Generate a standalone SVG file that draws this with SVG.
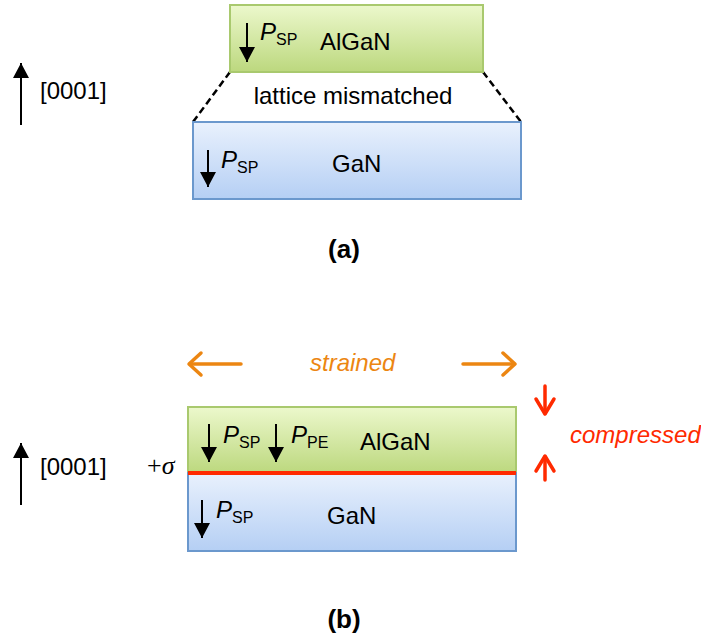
<svg xmlns="http://www.w3.org/2000/svg" width="701" height="637" viewBox="0 0 701 637">
<style>
text{font-family:"Liberation Sans",Arial,sans-serif;fill:#000}
.lbl{font-size:24px}
.sub{font-size:16px}
.it{font-style:italic}
.cap{font-size:26px;font-weight:bold;text-anchor:middle}
.blk{stroke:#000;stroke-width:2;fill:none}
.org{stroke:#ec8612;stroke-width:3.5;fill:none;stroke-linecap:round;stroke-linejoin:round}
.red{stroke:#ff2a00;stroke-width:3.5;fill:none;stroke-linecap:round;stroke-linejoin:round}
.algan{fill:url(#gG);stroke:#a9c96e;stroke-width:2}
.gan{fill:url(#gB);stroke:#6b98cd;stroke-width:2}
.dash{stroke:#000;stroke-width:2.5;stroke-dasharray:7,4;fill:none}
</style>
<defs>
<linearGradient id="gG" x1="0" y1="0" x2="0" y2="1">
<stop offset="0" stop-color="#ecf8cc"/>
<stop offset="1" stop-color="#bcd87e"/>
</linearGradient>
<linearGradient id="gB" x1="0" y1="0" x2="0" y2="1">
<stop offset="0" stop-color="#e9f1fd"/>
<stop offset="1" stop-color="#b5cff4"/>
</linearGradient>
<marker id="ah" markerUnits="userSpaceOnUse" markerWidth="16" markerHeight="16" refX="15" refY="8" orient="auto" viewBox="0 0 16 16">
<path d="M0,0 L15,8 L0,16 z" fill="#000"/>
</marker>
</defs>

<!-- (a) -->
<g id="axis-a">
<line class="blk" x1="21" y1="125" x2="21" y2="63" marker-end="url(#ah)"/>
<text class="lbl" x="40" y="99">[0001]</text>
</g>
<g id="connectors-a">
<line class="dash" x1="230" y1="72" x2="193" y2="122"/>
<line class="dash" x1="483" y1="72" x2="521" y2="122"/>
</g>
<g id="algan-a">
<rect class="algan" x="230" y="5" width="253" height="67"/>
<line class="blk" x1="247" y1="23" x2="247" y2="62" marker-end="url(#ah)"/>
<text class="lbl it" x="260" y="40">P</text>
<text class="sub" x="276" y="45">SP</text>
<text class="lbl" x="320" y="50">AlGaN</text>
</g>
<text class="lbl" x="353" y="104" text-anchor="middle">lattice mismatched</text>
<g id="gan-a">
<rect class="gan" x="193" y="122" width="328" height="77"/>
<line class="blk" x1="208" y1="150" x2="208" y2="187" marker-end="url(#ah)"/>
<text class="lbl it" x="221" y="168">P</text>
<text class="sub" x="237" y="173">SP</text>
<text class="lbl" x="332" y="172">GaN</text>
</g>
<text class="cap" x="344" y="258">(a)</text>

<!-- (b) -->
<g id="strain">
<line class="org" x1="241" y1="364" x2="190" y2="364"/>
<polyline class="org" points="201,353 189,364 201,375"/>
<line class="org" x1="463" y1="364" x2="514" y2="364"/>
<polyline class="org" points="503,353 515,364 503,375"/>
<text class="lbl it" x="310" y="371" style="fill:#ec8612">strained</text>
</g>
<g id="axis-b">
<line class="blk" x1="21" y1="505" x2="21" y2="443" marker-end="url(#ah)"/>
<text class="lbl" x="40" y="475">[0001]</text>
<text x="147" y="474" style="font-family:'Liberation Serif','Times New Roman',serif;font-size:26px">+<tspan font-style="italic">σ</tspan></text>
</g>
<g id="algan-b">
<rect class="algan" x="188" y="407" width="328" height="66"/>
<line class="blk" x1="209" y1="424" x2="209" y2="462" marker-end="url(#ah)"/>
<text class="lbl it" x="223" y="443">P</text>
<text class="sub" x="239" y="448">SP</text>
<line class="blk" x1="276" y1="424" x2="276" y2="462" marker-end="url(#ah)"/>
<text class="lbl it" x="291" y="443">P</text>
<text class="sub" x="307" y="448">PE</text>
<text class="lbl" x="360" y="450">AlGaN</text>
</g>
<g id="gan-b">
<rect class="gan" x="188" y="473" width="328" height="78"/>
<line class="blk" x1="202" y1="500" x2="202" y2="538" marker-end="url(#ah)"/>
<text class="lbl it" x="216" y="518">P</text>
<text class="sub" x="232" y="523">SP</text>
<text class="lbl" x="327" y="524">GaN</text>
</g>
<g id="interface">
<line x1="188" y1="473" x2="516" y2="473" stroke="#ff2a00" stroke-width="4"/>
</g>
<g id="compress">
<line class="red" x1="545" y1="386" x2="545" y2="413"/>
<polyline class="red" points="536,399 545,414 554,399"/>
<line class="red" x1="545" y1="480" x2="545" y2="457"/>
<polyline class="red" points="536,471 545,456 554,471"/>
<text class="lbl it" x="570" y="443" style="fill:#ff2a00">compressed</text>
</g>
<text class="cap" x="344" y="628">(b)</text>
</svg>
